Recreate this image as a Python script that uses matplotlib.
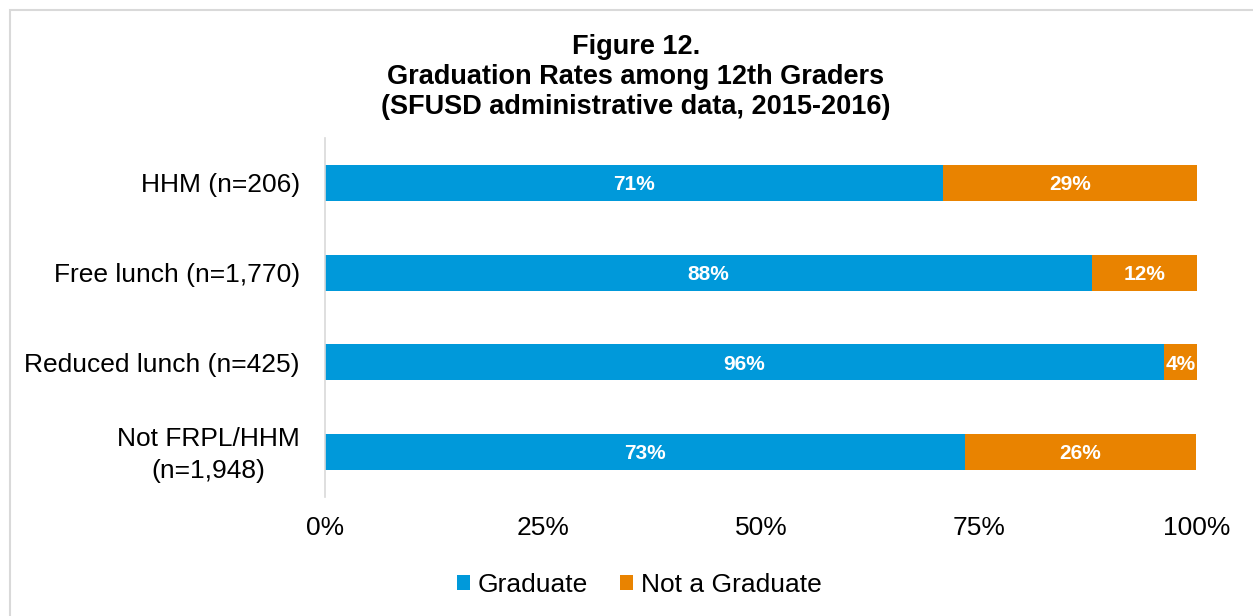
import matplotlib
matplotlib.use("Agg")
import matplotlib.pyplot as plt
import matplotlib.transforms as mtransforms
from matplotlib.patches import Rectangle

plt.rcParams["font.family"] = ["Liberation Sans", "DejaVu Sans"]

# data
categories = ["HHM (n=206)", "Free lunch (n=1,770)", "Reduced lunch (n=425)", "Not FRPL/HHM\n(n=1,948)"]
graduate = [70.9, 88.0, 96.2, 73.4]
not_graduate = [29.1, 12.0, 3.8, 26.5]
grad_labels = ["71%", "88%", "96%", "73%"]
not_grad_labels = ["29%", "12%", "4%", "26%"]
xticks = [0, 25, 50, 75, 100]

BLUE = "#0099DA"
ORANGE = "#E98300"

fig = plt.figure(figsize=(12.53, 6.16), dpi=100)
fig.patches.append(Rectangle((10 / 1253, -0.01), 1.02, 1 - 10 / 616 + 0.01,
                             transform=fig.transFigure, fill=False,
                             edgecolor="#d9d9d9", linewidth=1.5))

ax = fig.add_axes([325 / 1253, 1 - 497 / 616, 872 / 1253, 359 / 616])
y = list(range(len(categories)))
b1 = ax.barh(y, graduate, height=0.4, color=BLUE, label="Graduate")
b2 = ax.barh(y, not_graduate, left=graduate, height=0.4, color=ORANGE, label="Not a Graduate")

for i in y:
    ax.text(graduate[i] / 2, i + 0.02, grad_labels[i], color="white", fontweight="bold",
            fontsize=15, ha="center", va="center")
    ax.text(graduate[i] + not_graduate[i] / 2, i + 0.02, not_grad_labels[i], color="white",
            fontweight="bold", fontsize=15, ha="center", va="center")

ax.set_xlim(0, 100)
ax.set_ylim(3.5, -0.5)
ax.set_yticks(y)
ax.set_yticklabels(categories, fontsize=19, linespacing=1.45, multialignment="center")
ax.set_xticks(xticks)
ax.set_xticklabels([f"{t}%" for t in xticks], fontsize=19)
ax.tick_params(length=0, pad=14, axis="x")
ax.tick_params(length=0, pad=18, axis="y")
for s in ["top", "right", "bottom"]:
    ax.spines[s].set_visible(False)
ax.spines["left"].set_color("#d9d9d9")
ax.spines["left"].set_linewidth(1.2)

# nudge the two-line label up a little
last = ax.get_yticklabels()[-1]
last.set_transform(last.get_transform() + mtransforms.ScaledTranslation(0, 4 / 100, fig.dpi_scale_trans))

fig.text(636 / 1253, 1 - 77 / 616,
         "Figure 12.\nGraduation Rates among 12th Graders\n(SFUSD administrative data, 2015-2016)",
         ha="center", va="center", fontsize=19.5, fontweight="bold", linespacing=1.22)

fig.legend(handles=[b1, b2], loc="center", bbox_to_anchor=(639 / 1253, 1 - 585 / 616),
           ncol=2, frameon=False, fontsize=19, handlelength=0.5, handleheight=0.5,
           handletextpad=0.3, columnspacing=1.2)

fig.savefig("out.png", dpi=100)
